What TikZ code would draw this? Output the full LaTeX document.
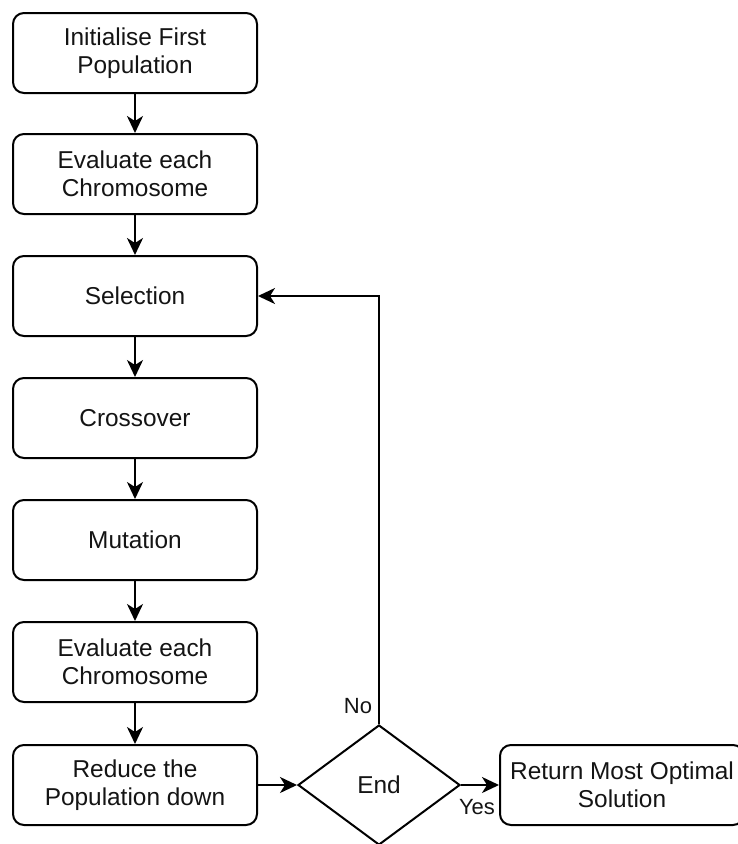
\documentclass[tikz,border=0pt]{standalone}
\usepackage{fontspec}
\setmainfont{Liberation Sans}
\usetikzlibrary{shapes.geometric,arrows.meta}

\begin{document}
\begin{tikzpicture}[x=1pt,y=-1pt,
  stepbox/.style={draw=black, line width=2pt, rounded corners=11pt,
    minimum width=244pt, minimum height=80pt, inner sep=0pt,
    align=center, fill=white, text=black!92,
    font=\fontsize{24.4}{28.5}\selectfont},
  decision/.style={diamond, draw=black, line width=2pt, inner sep=0pt,
    minimum width=162pt, minimum height=120pt, fill=white, text=black!92,
    font=\fontsize{24.4}{28.5}\selectfont},
  flow/.style={line width=2pt, draw=black,
    -{Stealth[length=17pt,width=16pt,inset=5pt]}},
  edgelabel/.style={text=black!92, inner sep=0pt,
    font=\fontsize{22}{26}\selectfont}
]
\useasboundingbox (0,0) rectangle (737,844);

% main column of steps
\node[stepbox] (init)   at (135,53)  {Initialise First\\Population};
\node[stepbox] (eval1)  at (135,174) {Evaluate each\\Chromosome};
\node[stepbox] (sel)    at (135,296) {Selection};
\node[stepbox] (cross)  at (135,418) {Crossover};
\node[stepbox] (mut)    at (135,540) {Mutation};
\node[stepbox] (eval2)  at (135,662) {Evaluate each\\Chromosome};
\node[stepbox] (reduce) at (135,785) {Reduce the\\Population down};

% termination test and result
\node[decision] (end) at (379,785) {End};
\node[stepbox] (ret) at (622,785) {Return Most Optimal\\Solution};

% connectors
\draw[flow] (init) -- (eval1);
\draw[flow] (eval1) -- (sel);
\draw[flow] (sel) -- (cross);
\draw[flow] (cross) -- (mut);
\draw[flow] (mut) -- (eval2);
\draw[flow] (eval2) -- (reduce);
\draw[flow] (reduce) -- (end);
\draw[flow] (end.east) -- (ret.west);
\draw[flow] (end.north) |- (sel.east);

% branch labels
\node[edgelabel] (nolab)  at (358,706) {No};
\node[edgelabel] (yeslab) at (477,807) {Yes};
\end{tikzpicture}
\end{document}
